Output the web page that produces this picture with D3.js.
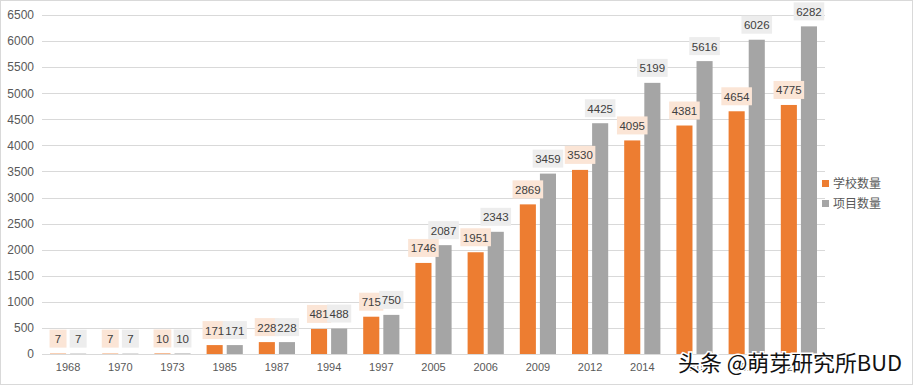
<!DOCTYPE html>
<html><head><meta charset="utf-8">
<script src="https://cdn.jsdelivr.net/npm/d3@7"></script>
<style>body{margin:0;background:#fff}svg{display:block}</style>
</head><body>
<script>
const years = ["1968","1970","1973","1985","1987","1994","1997","2005","2006","2009","2012","2014","2015","2016","2017"];
const schools = [7,7,10,171,228,481,715,1746,1951,2869,3530,4095,4381,4654,4775];
const projects = [7,7,10,171,228,488,750,2087,2343,3459,4425,5199,5616,6026,6282];
const seriesNames = ["学校数量","项目数量"];
const yTicks = [0,500,1000,1500,2000,2500,3000,3500,4000,4500,5000,5500,6000,6500];

(function(){
const W = 915, H = 387;
const svg = d3.select("body").append("svg").attr("width", W).attr("height", H);
svg.append("rect").attr("x",0.5).attr("y",0.5).attr("width",W-3).attr("height",H-3)
  .attr("fill","#fff").attr("stroke","#d9d9d9");

const pLeft = 42, pRight = 825, pTop = 15, pBottom = 354;
const x = d3.scaleBand().domain(years).range([pLeft, pRight]).paddingInner(0).paddingOuter(0);
const y = d3.scaleLinear().domain([0, 6500]).range([pBottom, pTop]);
const inner = d3.scaleBand().domain([0,1]).range([8, x.bandwidth()-8]).paddingInner(0.2);

const colors = ["#ed7d31", "#a5a5a5"];
const labelBg = ["#fbe5d6", "#ededed"];
const font = "'Liberation Sans', 'Noto Sans', sans-serif";

svg.append("g").selectAll("line").data(yTicks).join("line")
  .attr("x1", pLeft).attr("x2", pRight)
  .attr("y1", d => Math.round(y(d))+0.5).attr("y2", d => Math.round(y(d))+0.5)
  .attr("stroke", "#d9d9d9").attr("stroke-width", 1);

const yAxis = d3.axisLeft(y).tickValues(yTicks).tickFormat(d3.format("d")).tickSize(0).tickPadding(8);
const gy = svg.append("g").attr("transform", `translate(${pLeft},0)`).call(yAxis);
gy.select(".domain").remove();
gy.selectAll("text").attr("fill","#595959").style("font-family", font).style("font-size","12px");

const xAxis = d3.axisBottom(x).tickSize(0).tickPadding(9);
const gx = svg.append("g").attr("transform", `translate(0,${pBottom})`).call(xAxis);
gx.select(".domain").remove();
gx.selectAll("text").attr("fill","#595959").style("font-family", font).style("font-size","11px");

const data = [schools, projects];
const boxLayer = svg.append("g"), textLayer = svg.append("g");
data.forEach((vals, s) => {
  svg.insert("g", () => boxLayer.node()).selectAll("rect").data(vals).join("rect")
    .attr("x", (d,i) => x(years[i]) + inner(s))
    .attr("width", inner.bandwidth())
    .attr("y", d => y(d))
    .attr("height", d => pBottom - y(d))
    .attr("fill", colors[s]);
  vals.forEach((d,i) => {
    const cx = x(years[i]) + inner(s) + inner.bandwidth()/2;
    const txt = String(d);
    const w = Math.max(17, txt.length*6.4 + 5);
    const by = y(d) - 6 - 18;
    boxLayer.append("rect").attr("x", cx - w/2).attr("y", by).attr("width", w).attr("height", 18)
      .attr("fill", labelBg[s]);
    textLayer.append("text").attr("x", cx).attr("y", by + 13.5).attr("text-anchor","middle")
      .attr("fill","#404040").style("font-family", font).style("font-size","11.5px").text(txt);
  });
});

const leg = svg.append("g").attr("transform","translate(822,180)");
seriesNames.forEach((n,i) => {
  leg.append("rect").attr("x",0).attr("y", i*20).attr("width",7).attr("height",7).attr("fill",colors[i]);
  leg.append("text").attr("x",11).attr("y", i*20+8).attr("fill","#595959")
    .style("font-family","'Noto Sans CJK SC', sans-serif").style("font-size","12px").text(n);
});

svg.append("text").attr("x", 678).attr("y", 371)
  .attr("fill","#111").attr("stroke","#fff").attr("stroke-width",3).attr("paint-order","stroke")
  .style("font-family","'Noto Sans CJK SC', sans-serif").style("font-size","22px")
  .attr("textLength", 224).attr("lengthAdjust","spacingAndGlyphs")
  .text("头条 @萌芽研究所BUD");
})();
</script>
</body></html>
